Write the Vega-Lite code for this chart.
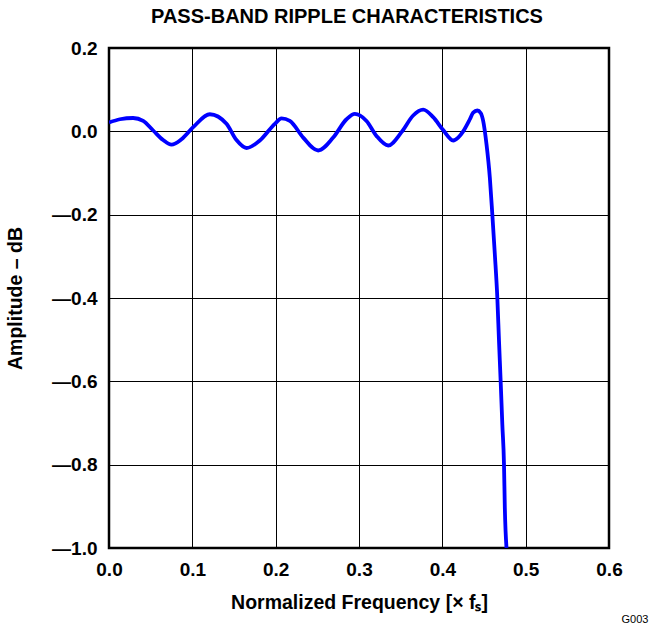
{
  "$schema": "https://vega.github.io/schema/vega-lite/v6.json",
  "width": 500,
  "height": 500,
  "autosize": {"type": "none"},
  "padding": {"left": 109, "top": 48, "right": 42, "bottom": 78},
  "background": "white",
  "config": {
    "font": "Liberation Sans",
    "view": {"stroke": "black", "strokeWidth": 2.5},
    "axis": {
      "domain": false,
      "ticks": false,
      "grid": true,
      "gridColor": "black",
      "gridOpacity": 1,
      "gridWidth": 1,
      "labelFont": "Liberation Sans",
      "labelFontSize": 19,
      "labelFontWeight": "bold",
      "labelColor": "black",
      "labelFlush": false,
      "titleFont": "Liberation Sans",
      "titleFontSize": 19.5,
      "titleFontWeight": "bold",
      "titleColor": "black"
    }
  },
  "title": {
    "text": "PASS-BAND RIPPLE CHARACTERISTICS",
    "font": "Liberation Sans",
    "fontSize": 20,
    "fontWeight": "bold",
    "color": "black",
    "anchor": "middle",
    "offset": 12,
    "dx": -12
  },
  "layer": [
    {
      "data": {
        "values": [
          {"f": 0.000, "a": 0.021},
          {"f": 0.013, "a": 0.029},
          {"f": 0.029, "a": 0.032},
          {"f": 0.041, "a": 0.025},
          {"f": 0.053, "a": 0.002},
          {"f": 0.065, "a": -0.021},
          {"f": 0.075, "a": -0.032},
          {"f": 0.087, "a": -0.019},
          {"f": 0.101, "a": 0.010},
          {"f": 0.121, "a": 0.041},
          {"f": 0.141, "a": 0.018},
          {"f": 0.153, "a": -0.021},
          {"f": 0.165, "a": -0.040},
          {"f": 0.181, "a": -0.022},
          {"f": 0.199, "a": 0.018},
          {"f": 0.207, "a": 0.031},
          {"f": 0.217, "a": 0.025},
          {"f": 0.233, "a": -0.015},
          {"f": 0.251, "a": -0.046},
          {"f": 0.269, "a": -0.015},
          {"f": 0.285, "a": 0.029},
          {"f": 0.295, "a": 0.042},
          {"f": 0.309, "a": 0.025},
          {"f": 0.321, "a": -0.011},
          {"f": 0.335, "a": -0.034},
          {"f": 0.351, "a": -0.002},
          {"f": 0.365, "a": 0.038},
          {"f": 0.377, "a": 0.052},
          {"f": 0.389, "a": 0.034},
          {"f": 0.401, "a": 0.003},
          {"f": 0.413, "a": -0.022},
          {"f": 0.419, "a": -0.015},
          {"f": 0.425, "a": 0.000},
          {"f": 0.433, "a": 0.029},
          {"f": 0.437, "a": 0.045},
          {"f": 0.442, "a": 0.050},
          {"f": 0.446, "a": 0.044},
          {"f": 0.449, "a": 0.025},
          {"f": 0.453, "a": -0.031},
          {"f": 0.457, "a": -0.111},
          {"f": 0.460, "a": -0.200},
          {"f": 0.463, "a": -0.295},
          {"f": 0.466, "a": -0.400},
          {"f": 0.468, "a": -0.503},
          {"f": 0.470, "a": -0.600},
          {"f": 0.472, "a": -0.704},
          {"f": 0.474, "a": -0.800},
          {"f": 0.475, "a": -0.904},
          {"f": 0.477, "a": -1.000}
        ]
      },
      "mark": {"type": "line", "color": "#0000FF", "strokeWidth": 3.8, "interpolate": "monotone", "clip": true},
      "encoding": {
        "x": {
          "field": "f",
          "type": "quantitative",
          "scale": {"domain": [0, 0.6], "nice": false},
          "axis": {
            "values": [0, 0.1, 0.2, 0.3, 0.4, 0.5, 0.6],
            "format": ".1f",
            "labelPadding": 12,
            "title": "Normalized Frequency [× fₛ]",
            "titlePadding": 14
          }
        },
        "y": {
          "field": "a",
          "type": "quantitative",
          "scale": {"domain": [-1, 0.2], "nice": false},
          "axis": {
            "values": [-1, -0.8, -0.6, -0.4, -0.2, 0, 0.2],
            "labelExpr": "datum.value < -0.001 ? '—' + format(-datum.value, '.1f') : format(datum.value, '.1f')",
            "labelPadding": 12,
            "title": "Amplitude – dB",
            "titlePadding": 26
          }
        }
      }
    },
    {
      "data": {"values": [{"f": 0.6, "a": -1.0, "label": "G003"}]},
      "mark": {"type": "text", "fontSize": 11, "font": "Liberation Sans", "color": "black", "dx": 26, "dy": 72, "clip": false},
      "encoding": {
        "x": {"field": "f", "type": "quantitative"},
        "y": {"field": "a", "type": "quantitative"},
        "text": {"field": "label"}
      }
    }
  ]
}
